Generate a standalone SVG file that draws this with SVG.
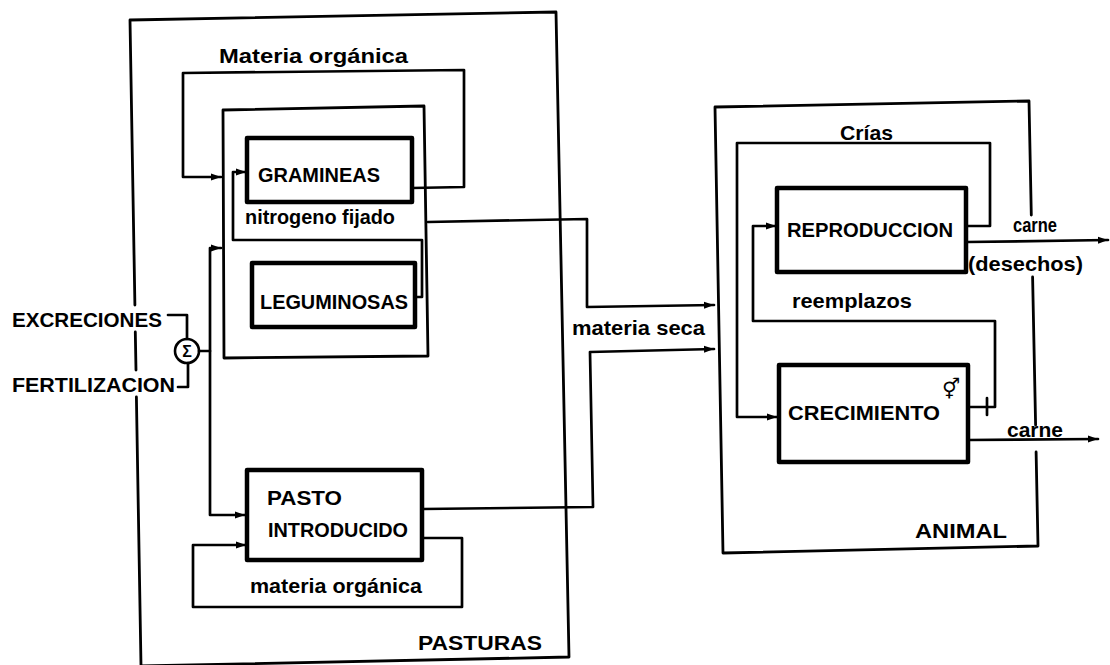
<svg xmlns="http://www.w3.org/2000/svg" width="1110" height="665" viewBox="0 0 1110 665">
<style>
  .frame { fill: none; stroke: #000; stroke-width: 2.8; stroke-linejoin: round; stroke-linecap: round; }
  .box { fill: none; stroke: #000; stroke-width: 4.5; stroke-linejoin: round; }
  .line { fill: none; stroke: #000; stroke-width: 2.7; stroke-linejoin: round; stroke-linecap: round; }
  .arr { marker-end: url(#ah); }
  text { font-family: "Liberation Sans", "DejaVu Sans", sans-serif; font-weight: bold; fill: #000; }
  .cap { font-size: 20px; }
  .low { font-size: 21px; }
</style>
<defs>
  <marker id="ah" markerUnits="userSpaceOnUse" markerWidth="12" markerHeight="10" refX="10" refY="5" orient="auto">
    <path d="M0,1.5 L10,5 L0,8.5 Z" fill="#000"/>
  </marker>
</defs>
<rect width="1110" height="665" fill="#fff"/>

<g id="pasturas">
  <path class="frame" d="M134.9,305 L130,20 L556,12 L569,657 L141,666 L136.4,397 M136,370 L135.3,332"/>
  <text class="cap" x="418" y="650" textLength="124" lengthAdjust="spacingAndGlyphs">PASTURAS</text>
</g>

<g id="leguminosas-gramineas">
  <path class="frame" d="M223,110 L424,106 L428,356 L224,358 Z"/>
</g>

<g id="gramineas">
  <rect class="box" x="247" y="138" width="165" height="64"/>
  <text class="cap" x="258" y="182" textLength="122" lengthAdjust="spacingAndGlyphs">GRAMINEAS</text>
</g>

<g id="leguminosas">
  <rect class="box" x="252" y="263" width="163" height="64"/>
  <text class="cap" x="260" y="309" textLength="148" lengthAdjust="spacingAndGlyphs">LEGUMINOSAS</text>
</g>

<g id="pasto">
  <rect class="box" x="247" y="470" width="175" height="90"/>
  <text class="cap" x="267" y="505" textLength="75" lengthAdjust="spacingAndGlyphs">PASTO</text>
  <text class="cap" x="268" y="537" textLength="140" lengthAdjust="spacingAndGlyphs">INTRODUCIDO</text>
</g>

<g id="excreciones">
  <text class="cap" x="12" y="327" textLength="150" lengthAdjust="spacingAndGlyphs">EXCRECIONES</text>
</g>
<g id="fertilizacion">
  <text class="cap" x="12" y="392" textLength="163" lengthAdjust="spacingAndGlyphs">FERTILIZACION</text>
</g>

<g id="sigma">
  <circle cx="187" cy="351" r="12" fill="#fff" stroke="#000" stroke-width="2.6"/>
  <text x="187" y="357" font-size="16" text-anchor="middle">Σ</text>
</g>

<g id="animal">
  <path class="frame" d="M1031.3,215 L1029,101 L715,107 L723,553 L1038,546 L1036.1,452 M1035.6,425 L1032.6,277"/>
  <text class="cap" x="915" y="538" textLength="92" lengthAdjust="spacingAndGlyphs">ANIMAL</text>
</g>

<g id="reproduccion">
  <rect class="box" x="777" y="188" width="189" height="84"/>
  <text class="cap" x="787" y="237" textLength="166" lengthAdjust="spacingAndGlyphs">REPRODUCCION</text>
</g>

<g id="crecimiento">
  <rect class="box" x="779" y="365" width="189" height="97"/>
  <text class="cap" x="788" y="420" textLength="152" lengthAdjust="spacingAndGlyphs">CRECIMIENTO</text>
  <text x="951" y="396" font-size="20" font-family="DejaVu Sans, sans-serif" text-anchor="middle">⚥</text>
</g>

<g id="connectors">
  <path class="line arr" d="M412,188 L464,187 L464,70 L183,73 L183,177 L221,177"/>
  <path class="line arr" d="M415,297 L422,297 L422,240 L233,240 L233,172 L246,172"/>
  <path class="line" d="M168,315 H187 V339"/>
  <path class="line" d="M178,387 H188 V363"/>
  <path class="line arr" d="M199,351 H210 V248 H221"/>
  <path class="line arr" d="M210,351 V515 H245"/>
  <path class="line arr" d="M428,222 L587,219 L587,307 L714,305"/>
  <path class="line arr" d="M423,509 L593,507 L590,352 L714,349"/>
  <path class="line arr" d="M422,538 H462 V607 H193 V545 H246"/>
  <path class="line arr" d="M967,226 H990 V143 H737 V417 H777"/>
  <path class="line arr" d="M968,407 H995 V321 H753 V226 H776"/>
  <path class="line" d="M987,398 V415"/>
  <path class="line arr" d="M967,242 L1108,240"/>
  <path class="line arr" d="M968,440 L1098,439"/>
</g>

<g id="labels">
  <text class="low" x="219" y="63" textLength="189" lengthAdjust="spacingAndGlyphs">Materia orgánica</text>
  <text class="low" x="245" y="224" textLength="150" lengthAdjust="spacingAndGlyphs">nitrogeno fijado</text>
  <text class="low" x="572" y="335" textLength="133" lengthAdjust="spacingAndGlyphs">materia seca</text>
  <text class="low" x="250" y="593" textLength="172" lengthAdjust="spacingAndGlyphs">materia orgánica</text>
  <text class="low" x="840" y="140" textLength="53" lengthAdjust="spacingAndGlyphs">Crías</text>
  <text class="low" x="1013" y="232" textLength="44" lengthAdjust="spacingAndGlyphs">carne</text>
  <text class="low" x="968" y="271" textLength="115" lengthAdjust="spacingAndGlyphs">(desechos)</text>
  <text class="low" x="792" y="308" textLength="120" lengthAdjust="spacingAndGlyphs">reemplazos</text>
  <text class="low" x="1007" y="437" textLength="56" lengthAdjust="spacingAndGlyphs">carne</text>
</g>
</svg>
